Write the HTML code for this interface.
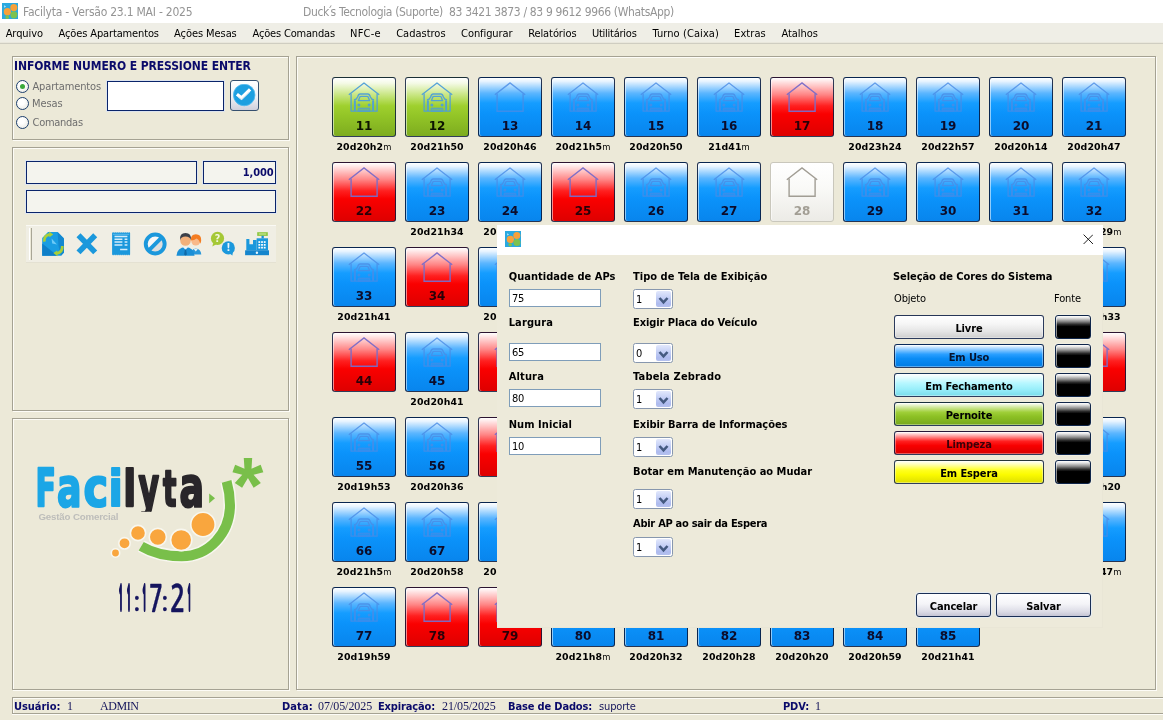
<!DOCTYPE html>
<html lang="pt-BR"><head><meta charset="utf-8"><title>Facilyta - Versão 23.1 MAI - 2025</title>
<style>
*{box-sizing:border-box;margin:0;padding:0}
html,body{width:1163px;height:720px;overflow:hidden;background:#ECE9D8}
body{position:relative;font-family:"DejaVu Sans Condensed","Liberation Sans",sans-serif;font-size:11px;color:#000;letter-spacing:-0.15px}
.abs,.abs>*{position:absolute}
div,span,svg,b,i{position:absolute;white-space:nowrap}
i{position:static;font-style:normal;font-weight:400}
/* title bar */
#title{left:0;top:0;width:1163px;height:23px;background:#fff}
#title span{top:5px;font-size:12px;color:#949494;letter-spacing:-0.25px}
#menu{left:0;top:23px;width:1163px;height:20px;background:#EFEEE6}
#menu span{top:4px;font-size:11px;color:#000}
#menuline{left:0;top:42px;width:1163px;height:2px;border-top:1px solid #e9e7dc;border-bottom:1px solid #cfcdc1}
/* panels */
.panel{border:1px solid #a5a293;box-shadow:1px 1px 0 #fdfcf7, inset 1px 1px 0 #fdfcf7}
.navy{color:#0a0a6a}
.fld{background:#F4F4EE;border:1px solid #0A246A;box-shadow:0 0 0 1px #dfe6f0}
/* radio */
.radio{width:13px;height:13px;border-radius:50%;border:1px solid #1c3f6e;background:radial-gradient(circle at 40% 35%,#fff 30%,#e3e3dc 100%)}
.radio.on::after{content:"";position:absolute;left:3px;top:3px;width:5px;height:5px;border-radius:50%;background:#3aa93a}
.rl{font-size:11px;color:#6e6e6e;letter-spacing:-0.2px}
/* tiles */
.tile{width:64px;height:60px;background-origin:border-box;border:1px solid #1d4f91;border-radius:3px;box-shadow:inset 1px 0 0 rgba(255,255,255,.55)}
.tile b{left:0;width:62px;top:41px;text-align:center;font-family:"DejaVu Sans","Liberation Sans",sans-serif;font-weight:700;font-size:12px;letter-spacing:0;line-height:14px;color:#0c0c2a}
.tB{background:linear-gradient(#ffffff 0%,#e6f3ff 6%,#5cb6ff 26%,#159dff 43%,#0b93fb 60%,#0885ed 100%);border-color:rgba(8,24,58,.88)}
.tG{background:linear-gradient(#ffffff 0%,#f4fae6 9%,#c6e57e 30%,#9fd02e 48%,#93c527 65%,#7dac1f 100%);border-color:rgba(8,24,58,.84)}
.tR{background:linear-gradient(#ffffff 0%,#ffe2e2 7%,#ff8484 29%,#ff2020 48%,#fa0000 62%,#de0000 100%);border-color:rgba(8,24,58,.84)}
.tW{background:linear-gradient(#ffffff 0%,#fafaf8 40%,#ecebe6 100%);border-color:#c9c7bc}
.tW b{color:#a29e94}
.tR b{color:#2a0008}
.tG b{color:#0c1400}
.hs{left:15px;top:4px;width:32px;height:30px;overflow:visible}
.tB .hs{color:#4a8ce6;opacity:.8}
.tG .hs{color:#4f9fd8;opacity:.95}
.tR .hs{color:#7a6cc8;opacity:.95}
.tW .hs{color:#a19d94;opacity:1}
.tl{width:80px;text-align:center;font-family:"DejaVu Sans","Liberation Sans",sans-serif;font-weight:700;font-size:9.4px;line-height:12px;letter-spacing:0.1px;color:#000}
.tl i{font-weight:700}
.tl i.m{font-size:8.4px;font-weight:400}
/* dialog */
#dlg{left:497px;top:225px;width:606px;height:403px;background:#EDEADA;box-shadow:inset -1px -1px 0 #e9e6d6}
#dlgt{left:0;top:0;width:606px;height:30px;background:#fff}
.lb{font-weight:700;font-size:11px;letter-spacing:-0.1px;color:#000;line-height:13px}
.inp{height:18px;width:92px;background:#fff;border:1px solid #7F9DB9;font-size:11px;line-height:18px;padding-left:2px;letter-spacing:-0.2px}
.sel{width:40px;height:20px;background:#fff;border:1px solid #8797ae;border-radius:2.5px;font-size:11px;line-height:19px;padding-left:2px}
.sel::after{content:"";position:absolute;right:1px;top:1px;width:15px;height:16px;border-radius:2px;background:linear-gradient(#e2e8fc,#c3cef5 45%,#aebbee 80%,#b4c0ee)}
.sel svg{right:3px;top:6px;width:11px;height:9px;z-index:2}
.cbtn{left:397px;width:150px;height:24px;background-origin:border-box;border:1px solid rgba(10,28,66,.86);border-radius:3px;text-align:center;font-weight:700;font-size:11px;line-height:25px;letter-spacing:-0.1px;box-shadow:inset 0 0 0 1px rgba(255,255,255,.35)}
.kbtn{left:558px;width:36px;height:24px;border:1px solid #10264a;border-radius:3px;background:linear-gradient(#ffffff 0%,#e6e6e6 8%,#8e8e8e 24%,#2c2c2c 38%,#000 48%,#000 100%);box-shadow:inset 1px 0 0 rgba(255,255,255,.55),0 0 0 1px rgba(255,255,255,.25)}
.btn{height:24px;border:1px solid #1a2f55;box-shadow:0 0 0 1px rgba(226,236,250,.7);border-radius:3px;text-align:center;font-weight:700;font-size:11px;line-height:25px;background:linear-gradient(#ffffff 0%,#f4f4f8 45%,#dcdce6 80%,#c4c4d4 100%)}
/* status */
#status{left:12px;top:697px;width:1160px;height:17px;border:1px solid #a5a293;border-right:0;box-shadow:inset 1px 1px 0 #fdfcf7, 0 1px 0 #fdfcf7}
#status b{top:2px;font-size:11px;color:#0a0a6a;font-weight:700;letter-spacing:-0.15px}
#status span{top:1px;font-family:"Liberation Serif",serif;font-size:12px;color:#14145a;letter-spacing:-0.1px}
#status span.ss{font-family:"DejaVu Sans Condensed","Liberation Sans",sans-serif;font-size:11px;top:2px;letter-spacing:-0.15px}

html body #f0{letter-spacing:-0.234px}
html body #f1{letter-spacing:-0.351px}
html body #f2{letter-spacing:-0.094px}
html body #f3{letter-spacing:-0.133px}
html body #f4{letter-spacing:-0.079px}
html body #f5{letter-spacing:-0.186px}
html body #f6{letter-spacing:0.206px}
html body #f7{letter-spacing:-0.001px}
html body #f8{letter-spacing:-0.083px}
html body #f9{letter-spacing:-0.095px}
html body #f10{letter-spacing:-0.240px}
html body #f11{letter-spacing:0.080px}
html body #f12{letter-spacing:0.070px}
html body #f13{letter-spacing:-0.050px}
html body #f14{letter-spacing:-0.086px}
html body #f15{letter-spacing:-0.152px}
html body #f16{letter-spacing:-0.083px}
html body #f17{letter-spacing:-0.269px}
html body #f18{letter-spacing:0.038px}
html body #f19{letter-spacing:0.120px}
html body #f20{letter-spacing:0.152px}
html body #f21{letter-spacing:0.079px}
html body #f22{letter-spacing:0.012px}
html body #f23{letter-spacing:-0.097px}
html body #f24{letter-spacing:0.162px}
html body #f25{letter-spacing:-0.050px}
html body #f26{letter-spacing:0.007px}
html body #f27{letter-spacing:-0.285px}
html body #f28{letter-spacing:-0.061px}
html body #f29{letter-spacing:-0.036px}
html body #f30{letter-spacing:-0.414px}
html body #f31{letter-spacing:0.107px}
html body #f32{letter-spacing:-0.047px}
</style></head>
<body>
<svg width="0" height="0" style="left:0;top:0">
 <defs>
  <g id="ic-house" fill="none" stroke="currentColor" stroke-width="1.4" stroke-linejoin="miter">
   <path d="M0.8 12.8 L16 1 L31.2 12.8"/>
   <path d="M3.1 11.5 V29.2 H29.1 V11.5"/>
  </g>
  <g id="ic-car" fill="none" stroke="currentColor" stroke-width="1.3" stroke-linejoin="round">
   <path d="M0.8 12.8 L16 1 L31.2 12.8"/>
   <path d="M3.1 11.5 V29.2 H29.1 V11.5"/>
   <path d="M6 18 Q8.6 17.6 9.6 15 Q10.4 12 12.2 12 H19.8 Q21.6 12 22.4 15 Q23.4 17.6 26 18"/>
   <path d="M10.4 18.7 L11.7 15.2 Q12 14.4 12.9 14.4 H19.1 Q20 14.4 20.3 15.2 L21.6 18.7 Z"/>
   <path d="M6.9 18.4 V29 M25.1 18.4 V29" stroke-width="2"/>
   <circle cx="10.9" cy="22.9" r="1.5" fill="currentColor" stroke="none"/><circle cx="21.1" cy="22.9" r="1.5" fill="currentColor" stroke="none"/>
   <rect x="10.2" y="26.2" width="11.6" height="3" fill="currentColor" fill-opacity=".55" stroke-width="1"/>
  </g>
  <g id="ic-app">
   <rect x="0" y="0" width="16" height="16" fill="#2aa9e0"/>
   <circle cx="5.4" cy="8.4" r="3.6" fill="#f7a13a"/>
   <circle cx="11.8" cy="4.4" r="3.5" fill="#f7a13a"/>
   <circle cx="11.9" cy="11.5" r="3.5" fill="#7cc24f"/>
   <circle cx="5.2" cy="13.7" r="1.8" fill="#7cc24f"/>
   <path d="M2.2 2.2 L4 3.4 L2.2 4.6Z" fill="#cdeaf8"/>
  </g>
 </defs>
</svg>

<!-- window title -->
<div id="title">
 <svg style="left:2px;top:2.5px" width="16" height="16.5" viewBox="0 0 16 16" preserveAspectRatio="none"><use href="#ic-app"/></svg>
 <span id="f0" style="left:23px">Facilyta - Versão 23.1 MAI - 2025</span>
 <span id="f1" style="left:303px">Duck<i style="margin:0 -1.6px 0 -1.8px">´</i>s Tecnologia (Suporte)&nbsp; 83 3421 3873 / 83 9 9612 9966 (WhatsApp)</span>
</div>
<div id="menu">
 <span id="f2" style="left:5.7px">Arquivo</span>
 <span id="f3" style="left:58.6px">Ações Apartamentos</span>
 <span id="f4" style="left:174.1px">Ações Mesas</span>
 <span id="f5" style="left:252.6px">Ações Comandas</span>
 <span id="f6" style="left:350.1px">NFC-e</span>
 <span id="f7" style="left:396.2px">Cadastros</span>
 <span id="f8" style="left:461.1px">Configurar</span>
 <span id="f9" style="left:528.2px">Relatórios</span>
 <span id="f10" style="left:591.9px">Utilitários</span>
 <span id="f11" style="left:652.5px">Turno (Caixa)</span>
 <span id="f12" style="left:734.1px">Extras</span>
 <span id="f13" style="left:781.5px">Atalhos</span>
</div>
<div id="menuline"></div>

<!-- panel 1 -->
<div class="panel" style="left:12px;top:56px;width:277px;height:84px">
 <span class="navy" style="left:1px;top:2px;font-weight:700;font-size:12px;line-height:14px;" id="f14">INFORME NUMERO E PRESSIONE ENTER</span>
 <div class="radio on" style="left:3px;top:23px"></div><span class="rl" id="f15" style="left:19.5px;top:23px">Apartamentos</span>
 <div class="radio" style="left:3px;top:40px"></div><span class="rl" id="f16" style="left:19px;top:40px">Mesas</span>
 <div class="radio" style="left:3px;top:59px"></div><span class="rl" id="f17" style="left:19.5px;top:59px">Comandas</span>
 <div style="left:94px;top:24px;width:117px;height:30px;background:#fff;border:1px solid #0A246A;box-shadow:0 0 0 1px #dde4ee"></div>
 <div style="left:217px;top:23px;width:29px;height:31px;border:1px solid #36506f;border-radius:3px;background:linear-gradient(#ffffff,#f1f1f4 55%,#cfd0dc)">
  <svg style="left:2px;top:3px" width="24" height="24" viewBox="0 0 24 24"><circle cx="11.2" cy="11" r="10.8" fill="#1d9fe0"/><circle cx="11.2" cy="11" r="10.8" fill="none" stroke="#58bdf0" stroke-width="0.8"/><path d="M3.9 10.3 L8.5 13.9 L17.1 5.3" fill="none" stroke="#fff" stroke-width="3.3"/><path d="M5.2 12.9 L8.5 15.5 L16.4 8.2" fill="none" stroke="#d5e3ee" stroke-width="1.1" opacity=".8"/></svg>
 </div>
</div>

<!-- panel 2 -->
<div class="panel" style="left:12px;top:147px;width:277px;height:264px">
 <div class="fld" style="left:13px;top:13px;width:171px;height:23px"></div>
 <div class="fld" style="left:190px;top:13px;width:73px;height:23px"><span class="navy" style="right:1.5px;top:4px;font-weight:700;font-size:11px;line-height:14px;letter-spacing:-0.12px">1,000</span></div>
 <div class="fld" style="left:13px;top:42px;width:250px;height:23px"></div>
 <div style="left:13px;top:77px;width:250px;height:38px;background:#F0EEE4;border-top:1px solid #faf9f4;border-bottom:1px solid #e4e1d2">
  <div style="left:3px;top:2px;width:3px;height:32px;border-left:1px solid #fff;border-right:1px solid #a9a696;background:#ece9d8"></div>
  <!-- toolbar icons (page coordinates) -->
  <svg style="left:0;top:0" width="250" height="36" viewBox="26 226 250 36">
   <!-- 1 document refresh -->
   <path d="M42.2 238 L48 231.9 H57.6 L64 238.6 V252.4 L61 255.8 H42.2Z" fill="#1a9de2"/>
   <path d="M42.2 243.5 L57.5 255.8 H42.2Z" fill="#0f7fc8"/>
   <path d="M57.6 231.9 L64 238.6 V252.4 L61 255.8 L58.5 246Z" fill="#1388d0"/>
   <path d="M51.6 238.4 L57 244.6 L52.2 243.4Z" fill="#6ccaf7"/>
   <path d="M44.3 241.6 Q43.8 235.2 49.8 234.3" fill="none" stroke="#a9cf38" stroke-width="2.7"/>
   <path d="M49.2 231.4 L53.2 234.5 L49.4 237.2Z" fill="#a9cf38"/>
   <path d="M62.3 246 Q62.7 252.4 56.8 253.3" fill="none" stroke="#a9cf38" stroke-width="2.7"/>
   <path d="M57.4 256.2 L53.4 253.1 L57.2 250.4Z" fill="#a9cf38"/>
   <!-- 2 X -->
   <path d="M78.5 235.2 L95.2 252.4 M95.2 235.2 L78.5 252.4" stroke="#1b98dc" stroke-width="5.6" fill="none"/>
   <!-- 3 receipt -->
   <path d="M112.1 233 l1 -1 l1 1 l1 -1 l1 1 l1 -1 l1 1 l1 -1 l1 1 l1 -1 l1 1 l1 -1 l1 1 l1 -1 l1 1 l1 -1 l1 1 l1 -1 l1 1 V254.5 l-1 1 l-1 -1 l-1 1 l-1 -1 l-1 1 l-1 -1 l-1 1 l-1 -1 l-1 1 l-1 -1 l-1 1 l-1 -1 l-1 1 l-1 -1 l-1 1 l-1 -1 l-1 1 l-1 -1 Z" fill="#1b98dc"/>
   <path d="M114.5 236.5 H127.4 M114.5 239.3 H122.4 M124.6 239.3 H127.4 M114.5 242.1 H122.4 M124.6 242.1 H127.4 M114.5 244.9 H122.4 M124.6 244.9 H127.4 M120.1 249.4 H127.4" stroke="#d4ecfa" stroke-width="1.5" fill="none"/>
   <path d="M113 234.3 H129.2" stroke="#5fbdee" stroke-width="0.9" fill="none"/>
   <!-- 4 ban -->
   <circle cx="155.2" cy="244" r="9.45" fill="#dedede"/>
   <path d="M148.52 250.68 A9.45 9.45 0 0 1 161.88 237.32Z" fill="#f7f7f7"/>
   <circle cx="155.2" cy="244" r="9.45" fill="none" stroke="#1b98dc" stroke-width="3.9"/>
   <path d="M148.3 250.9 L162.1 237.1" stroke="#1b98dc" stroke-width="3.9"/>
   <!-- 5 people -->
   <path d="M190.6 254.6 q0.4 -5.6 5.2 -6 q5 0.4 5.5 6z" fill="#2a98da"/>
   <path d="M193.6 248.8 l2.2 2.6 l2.2 -2.6z" fill="#e8f3fa"/>
   <circle cx="195.8" cy="241" r="4.5" fill="#f9b98a"/>
   <path d="M190.8 240.4 q-0.2 -6.2 5 -6.2 q5.6 0 5.4 6.4 q-0.2 2.2 -1.2 3.2 q0 -3.6 -3.4 -5.4 q-2.2 1.8 -5.8 2z" fill="#f47d22"/>
   <path d="M176.5 255.7 q0.5 -8.4 9 -8.8 q8.5 0.4 9 8.8z" fill="#1b8fd6"/>
   <path d="M183 246.9 l2.5 3.2 l2.5 -3.2z" fill="#e8f3fa"/>
   <path d="M184.9 249.4 h1.2 l0.8 5 l-1.4 1 l-1.4 -1z" fill="#0f6aa8"/>
   <circle cx="185.5" cy="240.4" r="5.3" fill="#f3b07a"/>
   <path d="M180 240.2 q-0.6 -7.2 5.5 -7.2 q6.1 0 5.5 7.2 q-1 -3.4 -5.5 -3.6 q-4.5 0.2 -5.500 3.600z" fill="#3c4049"/>
   <!-- 6 question / exclamation -->
   <circle cx="217.5" cy="238.4" r="6.6" fill="#a5c835"/><path d="M213.2 243 l-0.9 3.6 l4 -2.4z" fill="#a5c835"/>
   <text x="217.5" y="241.9" text-anchor="middle" font-family="DejaVu Sans, sans-serif" font-weight="700" font-size="9.6" fill="#f2f8dc">?</text>
   <circle cx="228.3" cy="247.9" r="6.6" fill="#1b98dc"/><path d="M229.6 253.6 l2.8 2 l0.6 -4z" fill="#1b98dc"/>
   <text x="228.3" y="251.4" text-anchor="middle" font-family="DejaVu Sans, sans-serif" font-weight="700" font-size="9.6" fill="#e8f5fd">!</text>
   <!-- 7 cash register -->
   <rect x="257.2" y="232.2" width="10.6" height="3.7" fill="#8dc63f"/><rect x="258.8" y="233.2" width="7.4" height="1.6" fill="#b9de80"/>
   <rect x="261.5" y="235.8" width="2.3" height="2.6" fill="#1b8fd6"/>
   <rect x="256.6" y="238.3" width="11.4" height="12.2" fill="#1b98dc"/>
   <path d="M246.3 238.9 h3.1 v5.4 h3.6 v-4.2 h3.6 v10.4 h-10.3z" fill="#1b98dc"/>
   <g fill="#fff"><rect x="258.4" y="241.2" width="1.8" height="1.7"/><rect x="261.1" y="241.2" width="1.8" height="1.7"/><rect x="263.8" y="241.2" width="1.8" height="1.7"/>
   <rect x="258.4" y="244" width="1.8" height="1.7"/><rect x="261.1" y="244" width="1.8" height="1.7"/><rect x="263.8" y="244" width="1.8" height="1.7"/>
   <rect x="258.4" y="246.8" width="1.8" height="1.7"/><rect x="261.1" y="246.8" width="1.8" height="1.7"/><rect x="263.8" y="246.8" width="1.8" height="1.7"/></g>
   <rect x="245.1" y="250.3" width="23.9" height="4.9" fill="#1585cd"/><circle cx="256.9" cy="252.7" r="1.2" fill="#eaf6fd"/>
  </svg>
 </div>
</div>

<!-- panel 3: logo + clock -->
<div class="panel" style="left:12px;top:418px;width:277px;height:272px"></div>
<svg style="left:12px;top:418px" width="278" height="272" viewBox="12 418 278 272">
 <!-- green swoosh -->
 <path d="M226.6 481.4 C228.8 489 230 497 230 505 C230 533 209 556.2 181.7 556.2 C166 556.2 152 552.6 141.2 546.2" fill="none" stroke="#f8f7ef" stroke-width="13" stroke-linecap="butt"/>
 <path d="M226.6 481.4 C228.8 489 230 497 230 505 C230 533 209 556.2 181.7 556.2 C166 556.2 152 552.6 141.2 546.2" fill="none" stroke="#79bf4a" stroke-width="10" stroke-linecap="butt"/>
 <!-- orange balls -->
 <g fill="#f9a63e" stroke="#f8f7ef" stroke-width="1.6">
  <circle cx="203" cy="524.5" r="12.2"/>
  <circle cx="181.2" cy="540" r="10.6"/>
  <circle cx="157.8" cy="537" r="8.6"/>
  <circle cx="138" cy="533" r="7.6"/>
  <circle cx="124.5" cy="543.3" r="5.7"/>
  <circle cx="115.5" cy="553" r="4.2"/>
 </g>
 <path d="M209.2 493.4 L215 498.3 L209.2 503.2Z" fill="#79bf4a"/>
 <text x="232.3" y="513.3" font-family="Liberation Sans, sans-serif" font-weight="700" font-size="80" fill="#79bf4a">*</text>
 <clipPath id="ycut"><rect x="130" y="460" width="40" height="51.8"/></clipPath>
 <text transform="translate(35.45 505.90) scale(0.2996 0.5171)" font-family="DejaVu Sans, Liberation Sans, sans-serif" font-weight="700" font-size="100" fill="#1ba6e6" stroke="#1ba6e6" stroke-width="2.0" stroke-linejoin="round" vector-effect="non-scaling-stroke">F</text>
 <text transform="translate(56.94 505.64) scale(0.3633 0.5399)" font-family="DejaVu Sans, Liberation Sans, sans-serif" font-weight="700" font-size="100" fill="#1ba6e6" stroke="#1ba6e6" stroke-width="2.0" stroke-linejoin="round" vector-effect="non-scaling-stroke">a</text>
 <text transform="translate(83.41 505.64) scale(0.4162 0.5399)" font-family="DejaVu Sans, Liberation Sans, sans-serif" font-weight="700" font-size="100" fill="#1ba6e6" stroke="#1ba6e6" stroke-width="2.0" stroke-linejoin="round" vector-effect="non-scaling-stroke">c</text>
 <text transform="translate(108.49 505.90) scale(0.4176 0.4962)" font-family="DejaVu Sans, Liberation Sans, sans-serif" font-weight="700" font-size="100" fill="#1ba6e6" stroke="#1ba6e6" stroke-width="2.0" stroke-linejoin="round" vector-effect="non-scaling-stroke">i</text>
 <text transform="translate(123.23 505.90) scale(0.3776 0.4962)" font-family="DejaVu Sans, Liberation Sans, sans-serif" font-weight="700" font-size="100" fill="#29262a" stroke="#29262a" stroke-width="2.0" stroke-linejoin="round" vector-effect="non-scaling-stroke">l</text>
 <g clip-path="url(#ycut)"><text transform="translate(138.61 507.00) scale(0.3169 0.5687)" font-family="DejaVu Sans, Liberation Sans, sans-serif" font-weight="700" font-size="100" fill="#29262a" stroke="#29262a" stroke-width="2.0" stroke-linejoin="round" vector-effect="non-scaling-stroke">y</text></g>
 <text transform="translate(163.03 506.20) scale(0.2806 0.4956)" font-family="DejaVu Sans, Liberation Sans, sans-serif" font-weight="700" font-size="100" fill="#29262a" stroke="#29262a" stroke-width="2.0" stroke-linejoin="round" vector-effect="non-scaling-stroke">t</text>
 <text transform="translate(179.44 505.63) scale(0.3633 0.5433)" font-family="DejaVu Sans, Liberation Sans, sans-serif" font-weight="700" font-size="100" fill="#29262a" stroke="#29262a" stroke-width="2.0" stroke-linejoin="round" vector-effect="non-scaling-stroke">a</text>
 <text x="38.4" y="520.2" font-family="Liberation Sans, sans-serif" font-weight="700" font-size="8.8" fill="#bdbdba" textLength="80" lengthAdjust="spacingAndGlyphs">Gestão Comercial</text>
 <text transform="translate(118.43 610.40) scale(0.0758 0.3303)" font-family="NanumGothic, Liberation Sans, sans-serif" font-weight="700" font-size="100" fill="#15155e" stroke="#15155e" stroke-width="2.8" stroke-linejoin="miter" vector-effect="non-scaling-stroke">1</text>
 <text transform="translate(126.43 610.40) scale(0.0758 0.3303)" font-family="NanumGothic, Liberation Sans, sans-serif" font-weight="700" font-size="100" fill="#15155e" stroke="#15155e" stroke-width="2.8" stroke-linejoin="miter" vector-effect="non-scaling-stroke">1</text>
 <text transform="translate(133.30 613.33) scale(0.2288 0.2442)" font-family="NanumGothic, Liberation Sans, sans-serif" font-weight="700" font-size="100" fill="#15155e" stroke="#15155e" stroke-width="0.3" stroke-linejoin="miter" vector-effect="non-scaling-stroke">:</text>
 <text transform="translate(141.97 610.40) scale(0.0798 0.3303)" font-family="NanumGothic, Liberation Sans, sans-serif" font-weight="700" font-size="100" fill="#15155e" stroke="#15155e" stroke-width="2.8" stroke-linejoin="miter" vector-effect="non-scaling-stroke">1</text>
 <text transform="translate(148.71 611.64) scale(0.2377 0.3632)" font-family="NanumGothic, Liberation Sans, sans-serif" font-weight="700" font-size="100" fill="#15155e" stroke="#15155e" stroke-width="0.3" stroke-linejoin="miter" vector-effect="non-scaling-stroke">7</text>
 <text transform="translate(161.20 613.33) scale(0.2288 0.2442)" font-family="NanumGothic, Liberation Sans, sans-serif" font-weight="700" font-size="100" fill="#15155e" stroke="#15155e" stroke-width="0.3" stroke-linejoin="miter" vector-effect="non-scaling-stroke">:</text>
 <text transform="translate(169.66 611.61) scale(0.2614 0.3584)" font-family="NanumGothic, Liberation Sans, sans-serif" font-weight="700" font-size="100" fill="#15155e" stroke="#15155e" stroke-width="0.3" stroke-linejoin="miter" vector-effect="non-scaling-stroke">2</text>
 <text transform="translate(187.03 610.40) scale(0.0758 0.3303)" font-family="NanumGothic, Liberation Sans, sans-serif" font-weight="700" font-size="100" fill="#15155e" stroke="#15155e" stroke-width="2.8" stroke-linejoin="miter" vector-effect="non-scaling-stroke">1</text>
</svg>

<!-- right panel -->
<div class="panel" style="left:296px;top:56px;width:860px;height:634px"></div>
<div class="tile tG" style="left:332px;top:77px"><svg class="hs" viewBox="0 0 32 30"><use href="#ic-car"/></svg><b>11</b></div>
<div class="tl" style="left:324px;top:141px">20<i>d</i>20<i>h</i>2<i class="m">m</i></div>
<div class="tile tG" style="left:405px;top:77px"><svg class="hs" viewBox="0 0 32 30"><use href="#ic-car"/></svg><b>12</b></div>
<div class="tl" style="left:397px;top:141px">20<i>d</i>21<i>h</i>50</div>
<div class="tile tB" style="left:478px;top:77px"><svg class="hs" viewBox="0 0 32 30"><use href="#ic-house"/></svg><b>13</b></div>
<div class="tl" style="left:470px;top:141px">20<i>d</i>20<i>h</i>46</div>
<div class="tile tB" style="left:551px;top:77px"><svg class="hs" viewBox="0 0 32 30"><use href="#ic-car"/></svg><b>14</b></div>
<div class="tl" style="left:543px;top:141px">20<i>d</i>21<i>h</i>5<i class="m">m</i></div>
<div class="tile tB" style="left:624px;top:77px"><svg class="hs" viewBox="0 0 32 30"><use href="#ic-car"/></svg><b>15</b></div>
<div class="tl" style="left:616px;top:141px">20<i>d</i>20<i>h</i>50</div>
<div class="tile tB" style="left:697px;top:77px"><svg class="hs" viewBox="0 0 32 30"><use href="#ic-car"/></svg><b>16</b></div>
<div class="tl" style="left:689px;top:141px">21<i>d</i>41<i class="m">m</i></div>
<div class="tile tR" style="left:770px;top:77px"><svg class="hs" viewBox="0 0 32 30"><use href="#ic-house"/></svg><b>17</b></div>
<div class="tile tB" style="left:843px;top:77px"><svg class="hs" viewBox="0 0 32 30"><use href="#ic-car"/></svg><b>18</b></div>
<div class="tl" style="left:835px;top:141px">20<i>d</i>23<i>h</i>24</div>
<div class="tile tB" style="left:916px;top:77px"><svg class="hs" viewBox="0 0 32 30"><use href="#ic-car"/></svg><b>19</b></div>
<div class="tl" style="left:908px;top:141px">20<i>d</i>22<i>h</i>57</div>
<div class="tile tB" style="left:989px;top:77px"><svg class="hs" viewBox="0 0 32 30"><use href="#ic-car"/></svg><b>20</b></div>
<div class="tl" style="left:981px;top:141px">20<i>d</i>20<i>h</i>14</div>
<div class="tile tB" style="left:1062px;top:77px"><svg class="hs" viewBox="0 0 32 30"><use href="#ic-car"/></svg><b>21</b></div>
<div class="tl" style="left:1054px;top:141px">20<i>d</i>20<i>h</i>47</div>
<div class="tile tR" style="left:332px;top:162px"><svg class="hs" viewBox="0 0 32 30"><use href="#ic-house"/></svg><b>22</b></div>
<div class="tile tB" style="left:405px;top:162px"><svg class="hs" viewBox="0 0 32 30"><use href="#ic-car"/></svg><b>23</b></div>
<div class="tl" style="left:397px;top:226px">20<i>d</i>21<i>h</i>34</div>
<div class="tile tB" style="left:478px;top:162px"><svg class="hs" viewBox="0 0 32 30"><use href="#ic-car"/></svg><b>24</b></div>
<div class="tl" style="left:470px;top:226px">20<i>d</i>20<i>h</i>31</div>
<div class="tile tR" style="left:551px;top:162px"><svg class="hs" viewBox="0 0 32 30"><use href="#ic-house"/></svg><b>25</b></div>
<div class="tile tB" style="left:624px;top:162px"><svg class="hs" viewBox="0 0 32 30"><use href="#ic-car"/></svg><b>26</b></div>
<div class="tl" style="left:616px;top:226px">20<i>d</i>21<i>h</i>12</div>
<div class="tile tB" style="left:697px;top:162px"><svg class="hs" viewBox="0 0 32 30"><use href="#ic-car"/></svg><b>27</b></div>
<div class="tl" style="left:689px;top:226px">20<i>d</i>20<i>h</i>44</div>
<div class="tile tW" style="left:770px;top:162px"><svg class="hs" viewBox="0 0 32 30"><use href="#ic-house"/></svg><b>28</b></div>
<div class="tile tB" style="left:843px;top:162px"><svg class="hs" viewBox="0 0 32 30"><use href="#ic-car"/></svg><b>29</b></div>
<div class="tl" style="left:835px;top:226px">20<i>d</i>20<i>h</i>39</div>
<div class="tile tB" style="left:916px;top:162px"><svg class="hs" viewBox="0 0 32 30"><use href="#ic-car"/></svg><b>30</b></div>
<div class="tl" style="left:908px;top:226px">20<i>d</i>21<i>h</i>26</div>
<div class="tile tB" style="left:989px;top:162px"><svg class="hs" viewBox="0 0 32 30"><use href="#ic-car"/></svg><b>31</b></div>
<div class="tl" style="left:981px;top:226px">20<i>d</i>20<i>h</i>52</div>
<div class="tile tB" style="left:1062px;top:162px"><svg class="hs" viewBox="0 0 32 30"><use href="#ic-car"/></svg><b>32</b></div>
<div class="tl" style="left:1054px;top:226px">20<i>d</i>2<i>h</i>29<i class="m">m</i></div>
<div class="tile tB" style="left:332px;top:247px"><svg class="hs" viewBox="0 0 32 30"><use href="#ic-car"/></svg><b>33</b></div>
<div class="tl" style="left:324px;top:311px">20<i>d</i>21<i>h</i>41</div>
<div class="tile tR" style="left:405px;top:247px"><svg class="hs" viewBox="0 0 32 30"><use href="#ic-house"/></svg><b>34</b></div>
<div class="tile tB" style="left:478px;top:247px"><svg class="hs" viewBox="0 0 32 30"><use href="#ic-car"/></svg><b>35</b></div>
<div class="tl" style="left:470px;top:311px">20<i>d</i>20<i>h</i>37</div>
<div class="tile tB" style="left:551px;top:247px"><svg class="hs" viewBox="0 0 32 30"><use href="#ic-car"/></svg><b>36</b></div>
<div class="tl" style="left:543px;top:311px">20<i>d</i>20<i>h</i>51</div>
<div class="tile tB" style="left:624px;top:247px"><svg class="hs" viewBox="0 0 32 30"><use href="#ic-car"/></svg><b>37</b></div>
<div class="tl" style="left:616px;top:311px">20<i>d</i>21<i>h</i>15</div>
<div class="tile tR" style="left:697px;top:247px"><svg class="hs" viewBox="0 0 32 30"><use href="#ic-house"/></svg><b>38</b></div>
<div class="tile tB" style="left:770px;top:247px"><svg class="hs" viewBox="0 0 32 30"><use href="#ic-car"/></svg><b>39</b></div>
<div class="tl" style="left:762px;top:311px">20<i>d</i>20<i>h</i>25</div>
<div class="tile tB" style="left:843px;top:247px"><svg class="hs" viewBox="0 0 32 30"><use href="#ic-car"/></svg><b>40</b></div>
<div class="tl" style="left:835px;top:311px">20<i>d</i>21<i>h</i>18</div>
<div class="tile tB" style="left:916px;top:247px"><svg class="hs" viewBox="0 0 32 30"><use href="#ic-car"/></svg><b>41</b></div>
<div class="tl" style="left:908px;top:311px">20<i>d</i>20<i>h</i>42</div>
<div class="tile tB" style="left:989px;top:247px"><svg class="hs" viewBox="0 0 32 30"><use href="#ic-car"/></svg><b>42</b></div>
<div class="tl" style="left:981px;top:311px">20<i>d</i>20<i>h</i>11</div>
<div class="tile tB" style="left:1062px;top:247px"><svg class="hs" viewBox="0 0 32 30"><use href="#ic-car"/></svg><b>43</b></div>
<div class="tl" style="left:1054px;top:311px">20<i>d</i>20<i>h</i>33</div>
<div class="tile tR" style="left:332px;top:332px"><svg class="hs" viewBox="0 0 32 30"><use href="#ic-house"/></svg><b>44</b></div>
<div class="tile tB" style="left:405px;top:332px"><svg class="hs" viewBox="0 0 32 30"><use href="#ic-car"/></svg><b>45</b></div>
<div class="tl" style="left:397px;top:396px">20<i>d</i>20<i>h</i>41</div>
<div class="tile tR" style="left:478px;top:332px"><svg class="hs" viewBox="0 0 32 30"><use href="#ic-house"/></svg><b>46</b></div>
<div class="tile tB" style="left:551px;top:332px"><svg class="hs" viewBox="0 0 32 30"><use href="#ic-car"/></svg><b>47</b></div>
<div class="tl" style="left:543px;top:396px">20<i>d</i>20<i>h</i>27</div>
<div class="tile tB" style="left:624px;top:332px"><svg class="hs" viewBox="0 0 32 30"><use href="#ic-car"/></svg><b>48</b></div>
<div class="tl" style="left:616px;top:396px">20<i>d</i>21<i>h</i>13</div>
<div class="tile tB" style="left:697px;top:332px"><svg class="hs" viewBox="0 0 32 30"><use href="#ic-car"/></svg><b>49</b></div>
<div class="tl" style="left:689px;top:396px">20<i>d</i>20<i>h</i>45</div>
<div class="tile tB" style="left:770px;top:332px"><svg class="hs" viewBox="0 0 32 30"><use href="#ic-car"/></svg><b>50</b></div>
<div class="tl" style="left:762px;top:396px">20<i>d</i>20<i>h</i>19</div>
<div class="tile tR" style="left:843px;top:332px"><svg class="hs" viewBox="0 0 32 30"><use href="#ic-house"/></svg><b>51</b></div>
<div class="tile tB" style="left:916px;top:332px"><svg class="hs" viewBox="0 0 32 30"><use href="#ic-car"/></svg><b>52</b></div>
<div class="tl" style="left:908px;top:396px">20<i>d</i>20<i>h</i>38</div>
<div class="tile tB" style="left:989px;top:332px"><svg class="hs" viewBox="0 0 32 30"><use href="#ic-car"/></svg><b>53</b></div>
<div class="tl" style="left:981px;top:396px">20<i>d</i>21<i>h</i>22</div>
<div class="tile tR" style="left:1062px;top:332px"><svg class="hs" viewBox="0 0 32 30"><use href="#ic-house"/></svg><b>54</b></div>
<div class="tile tB" style="left:332px;top:417px"><svg class="hs" viewBox="0 0 32 30"><use href="#ic-car"/></svg><b>55</b></div>
<div class="tl" style="left:324px;top:481px">20<i>d</i>19<i>h</i>53</div>
<div class="tile tB" style="left:405px;top:417px"><svg class="hs" viewBox="0 0 32 30"><use href="#ic-car"/></svg><b>56</b></div>
<div class="tl" style="left:397px;top:481px">20<i>d</i>20<i>h</i>36</div>
<div class="tile tR" style="left:478px;top:417px"><svg class="hs" viewBox="0 0 32 30"><use href="#ic-house"/></svg><b>57</b></div>
<div class="tile tB" style="left:551px;top:417px"><svg class="hs" viewBox="0 0 32 30"><use href="#ic-car"/></svg><b>58</b></div>
<div class="tl" style="left:543px;top:481px">20<i>d</i>20<i>h</i>48</div>
<div class="tile tB" style="left:624px;top:417px"><svg class="hs" viewBox="0 0 32 30"><use href="#ic-car"/></svg><b>59</b></div>
<div class="tl" style="left:616px;top:481px">20<i>d</i>21<i>h</i>17</div>
<div class="tile tB" style="left:697px;top:417px"><svg class="hs" viewBox="0 0 32 30"><use href="#ic-car"/></svg><b>60</b></div>
<div class="tl" style="left:689px;top:481px">20<i>d</i>20<i>h</i>23</div>
<div class="tile tB" style="left:770px;top:417px"><svg class="hs" viewBox="0 0 32 30"><use href="#ic-car"/></svg><b>61</b></div>
<div class="tl" style="left:762px;top:481px">20<i>d</i>20<i>h</i>55</div>
<div class="tile tB" style="left:843px;top:417px"><svg class="hs" viewBox="0 0 32 30"><use href="#ic-car"/></svg><b>62</b></div>
<div class="tl" style="left:835px;top:481px">20<i>d</i>21<i>h</i>31</div>
<div class="tile tB" style="left:916px;top:417px"><svg class="hs" viewBox="0 0 32 30"><use href="#ic-car"/></svg><b>63</b></div>
<div class="tl" style="left:908px;top:481px">20<i>d</i>20<i>h</i>16</div>
<div class="tile tB" style="left:989px;top:417px"><svg class="hs" viewBox="0 0 32 30"><use href="#ic-car"/></svg><b>64</b></div>
<div class="tl" style="left:981px;top:481px">20<i>d</i>20<i>h</i>43</div>
<div class="tile tB" style="left:1062px;top:417px"><svg class="hs" viewBox="0 0 32 30"><use href="#ic-car"/></svg><b>65</b></div>
<div class="tl" style="left:1054px;top:481px">20<i>d</i>20<i>h</i>20</div>
<div class="tile tB" style="left:332px;top:502px"><svg class="hs" viewBox="0 0 32 30"><use href="#ic-car"/></svg><b>66</b></div>
<div class="tl" style="left:324px;top:566px">20<i>d</i>21<i>h</i>5<i class="m">m</i></div>
<div class="tile tB" style="left:405px;top:502px"><svg class="hs" viewBox="0 0 32 30"><use href="#ic-car"/></svg><b>67</b></div>
<div class="tl" style="left:397px;top:566px">20<i>d</i>20<i>h</i>58</div>
<div class="tile tB" style="left:478px;top:502px"><svg class="hs" viewBox="0 0 32 30"><use href="#ic-car"/></svg><b>68</b></div>
<div class="tl" style="left:470px;top:566px">20<i>d</i>20<i>h</i>35</div>
<div class="tile tB" style="left:551px;top:502px"><svg class="hs" viewBox="0 0 32 30"><use href="#ic-car"/></svg><b>69</b></div>
<div class="tl" style="left:543px;top:566px">20<i>d</i>20<i>h</i>49</div>
<div class="tile tB" style="left:624px;top:502px"><svg class="hs" viewBox="0 0 32 30"><use href="#ic-car"/></svg><b>70</b></div>
<div class="tl" style="left:616px;top:566px">20<i>d</i>21<i>h</i>24</div>
<div class="tile tB" style="left:697px;top:502px"><svg class="hs" viewBox="0 0 32 30"><use href="#ic-car"/></svg><b>71</b></div>
<div class="tl" style="left:689px;top:566px">20<i>d</i>20<i>h</i>13</div>
<div class="tile tB" style="left:770px;top:502px"><svg class="hs" viewBox="0 0 32 30"><use href="#ic-car"/></svg><b>72</b></div>
<div class="tl" style="left:762px;top:566px">20<i>d</i>20<i>h</i>56</div>
<div class="tile tB" style="left:843px;top:502px"><svg class="hs" viewBox="0 0 32 30"><use href="#ic-car"/></svg><b>73</b></div>
<div class="tl" style="left:835px;top:566px">20<i>d</i>21<i>h</i>37</div>
<div class="tile tB" style="left:916px;top:502px"><svg class="hs" viewBox="0 0 32 30"><use href="#ic-car"/></svg><b>74</b></div>
<div class="tl" style="left:908px;top:566px">20<i>d</i>20<i>h</i>21</div>
<div class="tile tB" style="left:989px;top:502px"><svg class="hs" viewBox="0 0 32 30"><use href="#ic-car"/></svg><b>75</b></div>
<div class="tl" style="left:981px;top:566px">20<i>d</i>20<i>h</i>54</div>
<div class="tile tB" style="left:1062px;top:502px"><svg class="hs" viewBox="0 0 32 30"><use href="#ic-car"/></svg><b>76</b></div>
<div class="tl" style="left:1054px;top:566px">20<i>d</i>2<i>h</i>47<i class="m">m</i></div>
<div class="tile tB" style="left:332px;top:587px"><svg class="hs" viewBox="0 0 32 30"><use href="#ic-car"/></svg><b>77</b></div>
<div class="tl" style="left:324px;top:651px">20<i>d</i>19<i>h</i>59</div>
<div class="tile tR" style="left:405px;top:587px"><svg class="hs" viewBox="0 0 32 30"><use href="#ic-house"/></svg><b>78</b></div>
<div class="tile tR" style="left:478px;top:587px"><svg class="hs" viewBox="0 0 32 30"><use href="#ic-house"/></svg><b>79</b></div>
<div class="tile tB" style="left:551px;top:587px"><svg class="hs" viewBox="0 0 32 30"><use href="#ic-car"/></svg><b>80</b></div>
<div class="tl" style="left:543px;top:651px">20<i>d</i>21<i>h</i>8<i class="m">m</i></div>
<div class="tile tB" style="left:624px;top:587px"><svg class="hs" viewBox="0 0 32 30"><use href="#ic-car"/></svg><b>81</b></div>
<div class="tl" style="left:616px;top:651px">20<i>d</i>20<i>h</i>32</div>
<div class="tile tB" style="left:697px;top:587px"><svg class="hs" viewBox="0 0 32 30"><use href="#ic-car"/></svg><b>82</b></div>
<div class="tl" style="left:689px;top:651px">20<i>d</i>20<i>h</i>28</div>
<div class="tile tB" style="left:770px;top:587px"><svg class="hs" viewBox="0 0 32 30"><use href="#ic-car"/></svg><b>83</b></div>
<div class="tl" style="left:762px;top:651px">20<i>d</i>20<i>h</i>20</div>
<div class="tile tB" style="left:843px;top:587px"><svg class="hs" viewBox="0 0 32 30"><use href="#ic-car"/></svg><b>84</b></div>
<div class="tl" style="left:835px;top:651px">20<i>d</i>20<i>h</i>59</div>
<div class="tile tB" style="left:916px;top:587px"><svg class="hs" viewBox="0 0 32 30"><use href="#ic-car"/></svg><b>85</b></div>
<div class="tl" style="left:908px;top:651px">20<i>d</i>21<i>h</i>41</div>

<!-- dialog -->
<div id="dlg">
 <div id="dlgt">
  <svg style="left:8px;top:6px" width="16" height="16" viewBox="0 0 16 16"><use href="#ic-app"/></svg>
  <svg style="left:585.7px;top:8.9px" width="10.6" height="10.6" viewBox="0 0 12 12"><path d="M0.7 0.7 L11.3 11.3 M11.3 0.7 L0.7 11.3" stroke="#1a1a1a" stroke-width="1.1" fill="none"/></svg>
 </div>
 <span class="lb" id="f18" style="left:11.7px;top:45px">Quantidade de APs</span>
 <div class="inp" style="left:12px;top:64px">75</div>
 <span class="lb" id="f19" style="left:11.7px;top:91px">Largura</span>
 <div class="inp" style="left:12px;top:118px">65</div>
 <span class="lb" id="f20" style="left:11.7px;top:145px">Altura</span>
 <div class="inp" style="left:12px;top:164px">80</div>
 <span class="lb" id="f21" style="left:11.7px;top:193px">Num Inicial</span>
 <div class="inp" style="left:12px;top:212px">10</div>

 <span class="lb" id="f22" style="left:136.1px;top:45px">Tipo de Tela de Exibição</span>
 <div class="sel" style="left:136px;top:64px">1<svg viewBox="0 0 11 9"><path d="M1.5 2 L5.5 6.4 L9.5 2" fill="none" stroke="#445a80" stroke-width="2.6"/></svg></div>
 <span class="lb" id="f23" style="left:136.1px;top:91px">Exigir Placa do Veículo</span>
 <div class="sel" style="left:136px;top:118px">0<svg viewBox="0 0 11 9"><path d="M1.5 2 L5.5 6.4 L9.5 2" fill="none" stroke="#445a80" stroke-width="2.6"/></svg></div>
 <span class="lb" id="f24" style="left:136.1px;top:145px">Tabela Zebrado</span>
 <div class="sel" style="left:136px;top:164px">1<svg viewBox="0 0 11 9"><path d="M1.5 2 L5.5 6.4 L9.5 2" fill="none" stroke="#445a80" stroke-width="2.6"/></svg></div>
 <span class="lb" id="f25" style="left:136.1px;top:193px">Exibir Barra de Informações</span>
 <div class="sel" style="left:136px;top:212px">1<svg viewBox="0 0 11 9"><path d="M1.5 2 L5.5 6.4 L9.5 2" fill="none" stroke="#445a80" stroke-width="2.6"/></svg></div>
 <span class="lb" id="f26" style="left:136.1px;top:240px">Botar em Manutenção ao Mudar</span>
 <div class="sel" style="left:136px;top:264px">1<svg viewBox="0 0 11 9"><path d="M1.5 2 L5.5 6.4 L9.5 2" fill="none" stroke="#445a80" stroke-width="2.6"/></svg></div>
 <span class="lb" id="f27" style="left:136.1px;top:292px">Abir AP ao sair da Espera</span>
 <div class="sel" style="left:136px;top:312px">1<svg viewBox="0 0 11 9"><path d="M1.5 2 L5.5 6.4 L9.5 2" fill="none" stroke="#445a80" stroke-width="2.6"/></svg></div>

 <span class="lb" id="f28" style="left:396.0px;top:45px">Seleção de Cores do Sistema</span>
 <span style="left:397px;top:67px;font-size:11px;line-height:13px">Objeto</span>
 <span style="left:557px;top:67px;font-size:11px;line-height:13px">Fonte</span>
 <div class="cbtn" style="top:90px;background:linear-gradient(#ffffff 0%,#f6f6f6 35%,#e5e5e5 70%,#cecece 100%)">Livre</div><div class="kbtn" style="top:90px"></div>
 <div class="cbtn" style="top:119px;color:#06142e;background:linear-gradient(#ffffff 0%,#9bd0ff 18%,#2a9fff 42%,#0a8cf5 62%,#007be3 100%)">Em Uso</div><div class="kbtn" style="top:119px"></div>
 <div class="cbtn" style="top:148px;background:linear-gradient(#ffffff 0%,#e6fdff 15%,#b6f7ff 42%,#98eefa 70%,#78dcea 100%)">Em Fechamento</div><div class="kbtn" style="top:148px"></div>
 <div class="cbtn" style="top:177px;background:linear-gradient(#ffffff 0%,#d4e9a2 18%,#9fcf38 42%,#8cc024 62%,#78a81c 100%)">Pernoite</div><div class="kbtn" style="top:177px"></div>
 <div class="cbtn" style="top:206px;color:#3c0008;background:linear-gradient(#ffffff 0%,#ffa0a0 18%,#ff2020 42%,#f80000 62%,#d80000 100%)">Limpeza</div><div class="kbtn" style="top:206px"></div>
 <div class="cbtn" style="top:235px;background:linear-gradient(#ffffff 0%,#ffffa8 18%,#ffff20 42%,#fbfb00 62%,#dede00 100%)">Em Espera</div><div class="kbtn" style="top:235px"></div>

 <div class="btn" style="left:419px;top:368px;width:75px">Cancelar</div>
 <div class="btn" style="left:499px;top:368px;width:95px">Salvar</div>
</div>

<!-- status bar -->
<div id="status">
 <b id="f29" style="left:1px">Usuário:</b><span style="left:54px">1</span><span id="f30" style="left:87px">ADMIN</span>
 <b id="f31" style="left:269px">Data:</b><span id="f32" style="left:305px">07/05/2025</span>
 <b style="left:365px">Expiração:</b><span style="left:429px">21/05/2025</span>
 <b style="left:495px">Base de Dados:</b><span class="ss" style="left:586px">suporte</span>
 <b style="left:770px">PDV:</b><span style="left:802px">1</span>
</div>

</body></html>
